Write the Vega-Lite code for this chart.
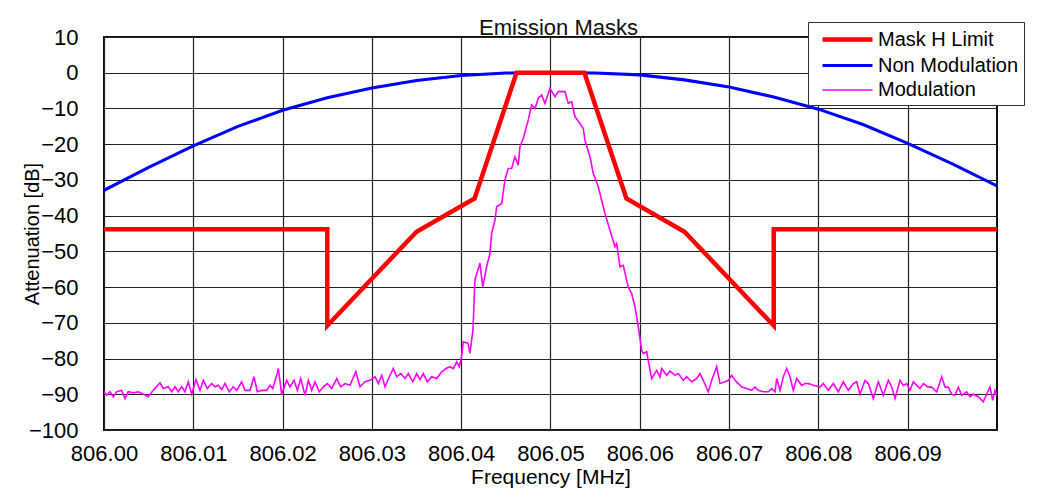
{
  "$schema": "https://vega.github.io/schema/vega-lite/v6.json",
  "width": 893,
  "height": 393,
  "autosize": {"type": "none"},
  "padding": {"left": 104, "top": 37, "right": 53, "bottom": 72},
  "background": "white",
  "title": {"text": "Emission Masks", "fontSize": 22, "font": "Liberation Sans", "fontWeight": "normal", "color": "#111", "offset": -18, "dx": 8},
  "config": {
    "view": {"stroke": "#111", "strokeWidth": 2},
    "axis": {"labelFont": "Liberation Sans", "titleFont": "Liberation Sans", "labelColor": "#000", "titleColor": "#000", "titleFontWeight": "normal", "ticks": false, "tickSize": 0, "domain": false, "grid": true, "gridColor": "#222", "gridWidth": 1.2, "gridOpacity": 1, "labelFlush": false, "labelOverlap": false}
  },
  "encoding": {
    "x": {"field": "f", "type": "quantitative", "scale": {"domain": [806, 806.1], "nice": false, "zero": false},
      "axis": {"title": "Frequency [MHz]", "values": [806, 806.01, 806.02, 806.03, 806.04, 806.05, 806.06, 806.07, 806.08, 806.09], "format": ".2f", "labelFontSize": 22, "titleFontSize": 21, "labelPadding": 13, "titlePadding": 2}},
    "y": {"field": "v", "type": "quantitative", "scale": {"domain": [-100, 10], "nice": false, "zero": false},
      "axis": {"title": "Attenuation [dB]", "values": [-100, -90, -80, -70, -60, -50, -40, -30, -20, -10, 0, 10], "labelFontSize": 22, "titleFontSize": 20, "labelPadding": 26, "titlePadding": -14}},
    "color": {"field": "s", "type": "nominal", "scale": {"domain": ["Mask H Limit", "Non Modulation", "Modulation"], "range": ["#ff0000", "#0000ff", "#ff00ff"]},
      "legend": {"orient": "none", "legendX": 704, "legendY": -15, "title": null, "labelFontSize": 20, "labelFont": "Liberation Sans", "labelColor": "#000", "symbolType": "M-2.5,0H2.5", "symbolSize": 400, "strokeColor": "#333", "fillColor": "white", "padding": 5, "symbolOffset": 22, "rowPadding": 3.5, "labelOffset": 18}},
    "strokeWidth": {"field": "s", "type": "nominal", "scale": {"domain": ["Mask H Limit", "Non Modulation", "Modulation"], "range": [4.5, 1.6, 2]},
      "legend": {"orient": "none", "legendX": 704, "legendY": -15, "title": null, "labelFontSize": 20, "labelFont": "Liberation Sans", "labelColor": "#000", "symbolType": "M-2.5,0H2.5", "symbolSize": 400, "strokeColor": "#333", "fillColor": "white", "padding": 5, "symbolOffset": 22, "rowPadding": 3.5, "labelOffset": 18}}
  },
  "layer": [
    {
      "data": {"values": [
        {"s": "Non Modulation", "f": 806.000, "v": -32.9},
        {"s": "Non Modulation", "f": 806.005, "v": -26.5},
        {"s": "Non Modulation", "f": 806.010, "v": -20.5},
        {"s": "Non Modulation", "f": 806.015, "v": -15.0},
        {"s": "Non Modulation", "f": 806.020, "v": -10.5},
        {"s": "Non Modulation", "f": 806.025, "v": -7.0},
        {"s": "Non Modulation", "f": 806.030, "v": -4.3},
        {"s": "Non Modulation", "f": 806.035, "v": -2.2},
        {"s": "Non Modulation", "f": 806.040, "v": -0.8},
        {"s": "Non Modulation", "f": 806.045, "v": -0.1},
        {"s": "Non Modulation", "f": 806.050, "v": 0},
        {"s": "Non Modulation", "f": 806.055, "v": -0.1},
        {"s": "Non Modulation", "f": 806.060, "v": -0.6},
        {"s": "Non Modulation", "f": 806.065, "v": -2.0},
        {"s": "Non Modulation", "f": 806.070, "v": -4.0},
        {"s": "Non Modulation", "f": 806.075, "v": -6.8},
        {"s": "Non Modulation", "f": 806.080, "v": -10.2},
        {"s": "Non Modulation", "f": 806.085, "v": -14.5},
        {"s": "Non Modulation", "f": 806.090, "v": -19.8},
        {"s": "Non Modulation", "f": 806.095, "v": -25.5},
        {"s": "Non Modulation", "f": 806.100, "v": -31.7},
        {"s": "Modulation", "f": 806.00000, "v": -89.3},
        {"s": "Modulation", "f": 806.00030, "v": -90.3},
        {"s": "Modulation", "f": 806.00067, "v": -89.3},
        {"s": "Modulation", "f": 806.00104, "v": -90.7},
        {"s": "Modulation", "f": 806.00142, "v": -89.3},
        {"s": "Modulation", "f": 806.00198, "v": -88.9},
        {"s": "Modulation", "f": 806.00235, "v": -91.2},
        {"s": "Modulation", "f": 806.00272, "v": -89.3},
        {"s": "Modulation", "f": 806.00328, "v": -89.6},
        {"s": "Modulation", "f": 806.00384, "v": -89.3},
        {"s": "Modulation", "f": 806.00440, "v": -90.0},
        {"s": "Modulation", "f": 806.00496, "v": -90.7},
        {"s": "Modulation", "f": 806.00552, "v": -88.9},
        {"s": "Modulation", "f": 806.00627, "v": -86.8},
        {"s": "Modulation", "f": 806.00664, "v": -88.4},
        {"s": "Modulation", "f": 806.00720, "v": -87.9},
        {"s": "Modulation", "f": 806.00758, "v": -89.3},
        {"s": "Modulation", "f": 806.00795, "v": -87.9},
        {"s": "Modulation", "f": 806.00832, "v": -89.3},
        {"s": "Modulation", "f": 806.00870, "v": -87.8},
        {"s": "Modulation", "f": 806.00907, "v": -89.3},
        {"s": "Modulation", "f": 806.00944, "v": -86.5},
        {"s": "Modulation", "f": 806.00982, "v": -90.0},
        {"s": "Modulation", "f": 806.01030, "v": -85.9},
        {"s": "Modulation", "f": 806.01075, "v": -88.9},
        {"s": "Modulation", "f": 806.01112, "v": -86.1},
        {"s": "Modulation", "f": 806.01157, "v": -88.4},
        {"s": "Modulation", "f": 806.01206, "v": -87.0},
        {"s": "Modulation", "f": 806.01243, "v": -87.9},
        {"s": "Modulation", "f": 806.01280, "v": -87.5},
        {"s": "Modulation", "f": 806.01318, "v": -88.7},
        {"s": "Modulation", "f": 806.01355, "v": -87.0},
        {"s": "Modulation", "f": 806.01403, "v": -89.3},
        {"s": "Modulation", "f": 806.01448, "v": -87.9},
        {"s": "Modulation", "f": 806.01486, "v": -88.9},
        {"s": "Modulation", "f": 806.01542, "v": -86.5},
        {"s": "Modulation", "f": 806.01579, "v": -88.9},
        {"s": "Modulation", "f": 806.01635, "v": -88.9},
        {"s": "Modulation", "f": 806.01680, "v": -85.1},
        {"s": "Modulation", "f": 806.01717, "v": -89.3},
        {"s": "Modulation", "f": 806.01766, "v": -88.9},
        {"s": "Modulation", "f": 806.01822, "v": -88.9},
        {"s": "Modulation", "f": 806.01859, "v": -87.5},
        {"s": "Modulation", "f": 806.01889, "v": -88.4},
        {"s": "Modulation", "f": 806.01934, "v": -84.7},
        {"s": "Modulation", "f": 806.01952, "v": -82.8},
        {"s": "Modulation", "f": 806.01990, "v": -90.0},
        {"s": "Modulation", "f": 806.02046, "v": -86.1},
        {"s": "Modulation", "f": 806.02083, "v": -87.9},
        {"s": "Modulation", "f": 806.02128, "v": -86.1},
        {"s": "Modulation", "f": 806.02165, "v": -88.9},
        {"s": "Modulation", "f": 806.02203, "v": -85.6},
        {"s": "Modulation", "f": 806.02251, "v": -90.3},
        {"s": "Modulation", "f": 806.02288, "v": -86.1},
        {"s": "Modulation", "f": 806.02326, "v": -88.9},
        {"s": "Modulation", "f": 806.02363, "v": -86.5},
        {"s": "Modulation", "f": 806.02411, "v": -89.3},
        {"s": "Modulation", "f": 806.02456, "v": -87.9},
        {"s": "Modulation", "f": 806.02501, "v": -87.0},
        {"s": "Modulation", "f": 806.02550, "v": -88.4},
        {"s": "Modulation", "f": 806.02606, "v": -85.6},
        {"s": "Modulation", "f": 806.02651, "v": -87.9},
        {"s": "Modulation", "f": 806.02699, "v": -87.0},
        {"s": "Modulation", "f": 806.02755, "v": -87.5},
        {"s": "Modulation", "f": 806.02819, "v": -83.7},
        {"s": "Modulation", "f": 806.02867, "v": -87.9},
        {"s": "Modulation", "f": 806.02923, "v": -86.5},
        {"s": "Modulation", "f": 806.02979, "v": -86.1},
        {"s": "Modulation", "f": 806.03035, "v": -85.1},
        {"s": "Modulation", "f": 806.03072, "v": -87.0},
        {"s": "Modulation", "f": 806.03110, "v": -84.7},
        {"s": "Modulation", "f": 806.03147, "v": -87.9},
        {"s": "Modulation", "f": 806.03195, "v": -85.1},
        {"s": "Modulation", "f": 806.03240, "v": -82.8},
        {"s": "Modulation", "f": 806.03278, "v": -85.1},
        {"s": "Modulation", "f": 806.03322, "v": -84.2},
        {"s": "Modulation", "f": 806.03371, "v": -85.6},
        {"s": "Modulation", "f": 806.03408, "v": -84.2},
        {"s": "Modulation", "f": 806.03457, "v": -86.5},
        {"s": "Modulation", "f": 806.03502, "v": -84.2},
        {"s": "Modulation", "f": 806.03539, "v": -85.9},
        {"s": "Modulation", "f": 806.03576, "v": -84.2},
        {"s": "Modulation", "f": 806.03620, "v": -86.5},
        {"s": "Modulation", "f": 806.03670, "v": -85.1},
        {"s": "Modulation", "f": 806.03726, "v": -85.6},
        {"s": "Modulation", "f": 806.03782, "v": -83.7},
        {"s": "Modulation", "f": 806.03830, "v": -82.8},
        {"s": "Modulation", "f": 806.03874, "v": -82.3},
        {"s": "Modulation", "f": 806.03911, "v": -82.8},
        {"s": "Modulation", "f": 806.03950, "v": -80.9},
        {"s": "Modulation", "f": 806.03979, "v": -82.3},
        {"s": "Modulation", "f": 806.04006, "v": -79.1},
        {"s": "Modulation", "f": 806.04023, "v": -75.3},
        {"s": "Modulation", "f": 806.04076, "v": -75.7},
        {"s": "Modulation", "f": 806.04098, "v": -78.5},
        {"s": "Modulation", "f": 806.04132, "v": -72.0},
        {"s": "Modulation", "f": 806.04154, "v": -58.0},
        {"s": "Modulation", "f": 806.04210, "v": -53.3},
        {"s": "Modulation", "f": 806.04241, "v": -60.0},
        {"s": "Modulation", "f": 806.04285, "v": -54.3},
        {"s": "Modulation", "f": 806.04322, "v": -50.6},
        {"s": "Modulation", "f": 806.04341, "v": -45.0},
        {"s": "Modulation", "f": 806.04378, "v": -41.3},
        {"s": "Modulation", "f": 806.04397, "v": -37.5},
        {"s": "Modulation", "f": 806.04453, "v": -36.6},
        {"s": "Modulation", "f": 806.04490, "v": -30.0},
        {"s": "Modulation", "f": 806.04527, "v": -26.8},
        {"s": "Modulation", "f": 806.04565, "v": -26.8},
        {"s": "Modulation", "f": 806.04602, "v": -23.5},
        {"s": "Modulation", "f": 806.04639, "v": -25.9},
        {"s": "Modulation", "f": 806.04658, "v": -20.7},
        {"s": "Modulation", "f": 806.04695, "v": -18.4},
        {"s": "Modulation", "f": 806.04751, "v": -13.2},
        {"s": "Modulation", "f": 806.04789, "v": -9.0},
        {"s": "Modulation", "f": 806.04826, "v": -10.0},
        {"s": "Modulation", "f": 806.04863, "v": -7.2},
        {"s": "Modulation", "f": 806.04901, "v": -6.2},
        {"s": "Modulation", "f": 806.04938, "v": -8.6},
        {"s": "Modulation", "f": 806.04975, "v": -5.8},
        {"s": "Modulation", "f": 806.04994, "v": -4.4},
        {"s": "Modulation", "f": 806.05050, "v": -6.7},
        {"s": "Modulation", "f": 806.05087, "v": -5.3},
        {"s": "Modulation", "f": 806.05162, "v": -5.3},
        {"s": "Modulation", "f": 806.05199, "v": -8.6},
        {"s": "Modulation", "f": 806.05237, "v": -8.1},
        {"s": "Modulation", "f": 806.05274, "v": -12.3},
        {"s": "Modulation", "f": 806.05330, "v": -14.2},
        {"s": "Modulation", "f": 806.05367, "v": -15.6},
        {"s": "Modulation", "f": 806.05386, "v": -18.9},
        {"s": "Modulation", "f": 806.05442, "v": -23.5},
        {"s": "Modulation", "f": 806.05479, "v": -28.2},
        {"s": "Modulation", "f": 806.05535, "v": -31.9},
        {"s": "Modulation", "f": 806.05573, "v": -35.7},
        {"s": "Modulation", "f": 806.05610, "v": -39.4},
        {"s": "Modulation", "f": 806.05666, "v": -44.1},
        {"s": "Modulation", "f": 806.05722, "v": -48.7},
        {"s": "Modulation", "f": 806.05741, "v": -47.8},
        {"s": "Modulation", "f": 806.05778, "v": -54.3},
        {"s": "Modulation", "f": 806.05815, "v": -53.9},
        {"s": "Modulation", "f": 806.05871, "v": -60.0},
        {"s": "Modulation", "f": 806.05909, "v": -61.8},
        {"s": "Modulation", "f": 806.05946, "v": -65.5},
        {"s": "Modulation", "f": 806.05983, "v": -71.1},
        {"s": "Modulation", "f": 806.06021, "v": -77.7},
        {"s": "Modulation", "f": 806.06039, "v": -78.6},
        {"s": "Modulation", "f": 806.06077, "v": -78.1},
        {"s": "Modulation", "f": 806.06133, "v": -85.6},
        {"s": "Modulation", "f": 806.06189, "v": -83.3},
        {"s": "Modulation", "f": 806.06226, "v": -85.1},
        {"s": "Modulation", "f": 806.06245, "v": -82.8},
        {"s": "Modulation", "f": 806.06301, "v": -84.7},
        {"s": "Modulation", "f": 806.06338, "v": -83.5},
        {"s": "Modulation", "f": 806.06394, "v": -84.7},
        {"s": "Modulation", "f": 806.06431, "v": -84.2},
        {"s": "Modulation", "f": 806.06487, "v": -86.1},
        {"s": "Modulation", "f": 806.06525, "v": -85.1},
        {"s": "Modulation", "f": 806.06581, "v": -86.5},
        {"s": "Modulation", "f": 806.06637, "v": -85.6},
        {"s": "Modulation", "f": 806.06674, "v": -84.2},
        {"s": "Modulation", "f": 806.06711, "v": -86.1},
        {"s": "Modulation", "f": 806.06767, "v": -89.3},
        {"s": "Modulation", "f": 806.06805, "v": -86.1},
        {"s": "Modulation", "f": 806.06861, "v": -82.3},
        {"s": "Modulation", "f": 806.06898, "v": -87.0},
        {"s": "Modulation", "f": 806.06954, "v": -86.5},
        {"s": "Modulation", "f": 806.06991, "v": -86.1},
        {"s": "Modulation", "f": 806.07029, "v": -84.7},
        {"s": "Modulation", "f": 806.07066, "v": -86.1},
        {"s": "Modulation", "f": 806.07103, "v": -87.0},
        {"s": "Modulation", "f": 806.07141, "v": -88.0},
        {"s": "Modulation", "f": 806.07197, "v": -88.4},
        {"s": "Modulation", "f": 806.07253, "v": -88.9},
        {"s": "Modulation", "f": 806.07290, "v": -88.0},
        {"s": "Modulation", "f": 806.07327, "v": -88.9},
        {"s": "Modulation", "f": 806.07383, "v": -89.3},
        {"s": "Modulation", "f": 806.07439, "v": -89.3},
        {"s": "Modulation", "f": 806.07477, "v": -88.4},
        {"s": "Modulation", "f": 806.07514, "v": -89.3},
        {"s": "Modulation", "f": 806.07533, "v": -85.6},
        {"s": "Modulation", "f": 806.07570, "v": -88.9},
        {"s": "Modulation", "f": 806.07607, "v": -85.1},
        {"s": "Modulation", "f": 806.07645, "v": -82.8},
        {"s": "Modulation", "f": 806.07682, "v": -85.1},
        {"s": "Modulation", "f": 806.07719, "v": -88.9},
        {"s": "Modulation", "f": 806.07757, "v": -85.6},
        {"s": "Modulation", "f": 806.07813, "v": -87.5},
        {"s": "Modulation", "f": 806.07850, "v": -87.0},
        {"s": "Modulation", "f": 806.07887, "v": -87.0},
        {"s": "Modulation", "f": 806.07943, "v": -87.5},
        {"s": "Modulation", "f": 806.08018, "v": -88.0},
        {"s": "Modulation", "f": 806.08055, "v": -87.0},
        {"s": "Modulation", "f": 806.08111, "v": -88.9},
        {"s": "Modulation", "f": 806.08167, "v": -87.0},
        {"s": "Modulation", "f": 806.08223, "v": -89.3},
        {"s": "Modulation", "f": 806.08279, "v": -86.5},
        {"s": "Modulation", "f": 806.08335, "v": -88.9},
        {"s": "Modulation", "f": 806.08391, "v": -87.0},
        {"s": "Modulation", "f": 806.08429, "v": -86.5},
        {"s": "Modulation", "f": 806.08466, "v": -90.0},
        {"s": "Modulation", "f": 806.08522, "v": -86.1},
        {"s": "Modulation", "f": 806.08559, "v": -87.0},
        {"s": "Modulation", "f": 806.08615, "v": -91.2},
        {"s": "Modulation", "f": 806.08671, "v": -86.5},
        {"s": "Modulation", "f": 806.08727, "v": -90.3},
        {"s": "Modulation", "f": 806.08783, "v": -86.1},
        {"s": "Modulation", "f": 806.08821, "v": -88.0},
        {"s": "Modulation", "f": 806.08858, "v": -91.2},
        {"s": "Modulation", "f": 806.08914, "v": -86.1},
        {"s": "Modulation", "f": 806.08951, "v": -87.5},
        {"s": "Modulation", "f": 806.08989, "v": -87.0},
        {"s": "Modulation", "f": 806.09026, "v": -88.9},
        {"s": "Modulation", "f": 806.09063, "v": -86.5},
        {"s": "Modulation", "f": 806.09101, "v": -87.5},
        {"s": "Modulation", "f": 806.09138, "v": -88.4},
        {"s": "Modulation", "f": 806.09175, "v": -87.0},
        {"s": "Modulation", "f": 806.09231, "v": -88.0},
        {"s": "Modulation", "f": 806.09269, "v": -88.0},
        {"s": "Modulation", "f": 806.09325, "v": -89.3},
        {"s": "Modulation", "f": 806.09381, "v": -85.1},
        {"s": "Modulation", "f": 806.09418, "v": -88.0},
        {"s": "Modulation", "f": 806.09455, "v": -88.0},
        {"s": "Modulation", "f": 806.09493, "v": -90.0},
        {"s": "Modulation", "f": 806.09530, "v": -90.3},
        {"s": "Modulation", "f": 806.09567, "v": -88.0},
        {"s": "Modulation", "f": 806.09605, "v": -90.3},
        {"s": "Modulation", "f": 806.09661, "v": -89.3},
        {"s": "Modulation", "f": 806.09698, "v": -90.7},
        {"s": "Modulation", "f": 806.09735, "v": -90.0},
        {"s": "Modulation", "f": 806.09791, "v": -90.7},
        {"s": "Modulation", "f": 806.09846, "v": -92.1},
        {"s": "Modulation", "f": 806.09884, "v": -90.0},
        {"s": "Modulation", "f": 806.09921, "v": -88.0},
        {"s": "Modulation", "f": 806.09952, "v": -91.7},
        {"s": "Modulation", "f": 806.09977, "v": -88.9},
        {"s": "Modulation", "f": 806.09996, "v": -90.3}
      ]},
      "mark": {"type": "line", "clip": true}
    },
    {
      "data": {"values": [
        {"s": "Mask H Limit", "o": 1, "f": 806.000, "v": -43.8},
        {"s": "Mask H Limit", "o": 2, "f": 806.025, "v": -43.8},
        {"s": "Mask H Limit", "o": 3, "f": 806.025, "v": -70.8},
        {"s": "Mask H Limit", "o": 4, "f": 806.035, "v": -44.5},
        {"s": "Mask H Limit", "o": 5, "f": 806.0415, "v": -35.2},
        {"s": "Mask H Limit", "o": 6, "f": 806.0462, "v": 0},
        {"s": "Mask H Limit", "o": 7, "f": 806.0538, "v": 0},
        {"s": "Mask H Limit", "o": 8, "f": 806.0585, "v": -35.2},
        {"s": "Mask H Limit", "o": 9, "f": 806.065, "v": -44.5},
        {"s": "Mask H Limit", "o": 10, "f": 806.075, "v": -70.8},
        {"s": "Mask H Limit", "o": 11, "f": 806.075, "v": -43.8},
        {"s": "Mask H Limit", "o": 12, "f": 806.100, "v": -43.8}
      ]},
      "mark": {"type": "line", "clip": true},
      "encoding": {"order": {"field": "o", "type": "quantitative"}}
    }
  ]
}
